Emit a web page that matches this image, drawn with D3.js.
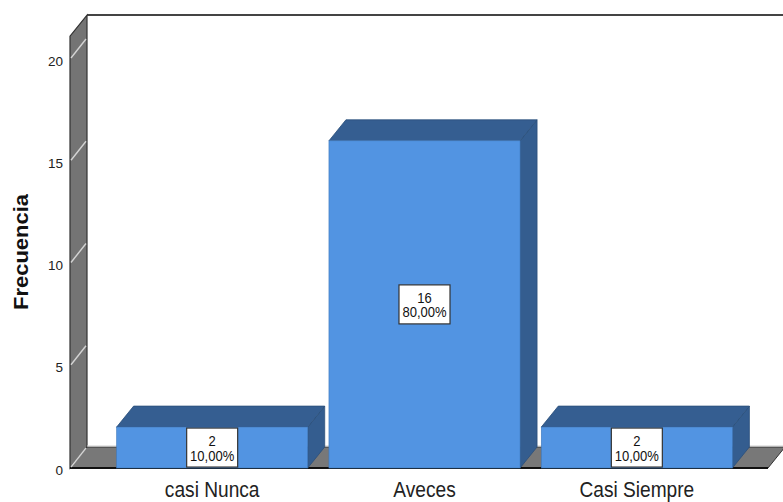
<!DOCTYPE html>
<html><head><meta charset="utf-8">
<script src="https://cdn.jsdelivr.net/npm/d3@7"></script>
<style>html,body{margin:0;padding:0;background:#fff;}svg{display:block;font-family:"Liberation Sans",Arial,sans-serif;}</style>
</head><body>
<svg id="c" width="783" height="502"></svg>
<script>
const categories = ["casi Nunca", "Aveces", "Casi Siempre"];
const counts = [2, 16, 2];
const percents = ["10,00%", "80,00%", "10,00%"];
const yTicks = [0, 5, 10, 15, 20];
const yTitle = "Frecuencia";

const svg = d3.select("#c");
const DX = 17, DY = -21;
const y = d3.scaleLinear().domain([0, 20]).range([468, 59]);
const yTop = 21.12;
const x = d3.scaleBand().domain(categories).range([106, 743]).paddingInner(0.1).paddingOuter(0.05);
const wallX = 70, floorRight = 768;
const line = d3.line();

// back top edge
svg.append("path").attr("d", line([[wallX + DX, y(yTop) + DY], [800, y(yTop) + DY]]))
  .attr("stroke", "#444").attr("stroke-width", 2).attr("fill", "none");

// left wall
svg.append("path").attr("d", line([[wallX, y(0)], [wallX, y(yTop)], [wallX + DX, y(yTop) + DY], [wallX + DX, y(0) + DY]]) + "Z")
  .attr("fill", "#747474").attr("stroke", "#333").attr("stroke-width", 1.2);

// floor
svg.append("path").attr("d", line([[wallX, y(0)], [wallX + DX, y(0) + DY], [floorRight + DX, y(0) + DY], [floorRight, y(0)]]) + "Z")
  .attr("fill", "#787878").attr("stroke", "#333").attr("stroke-width", 1);
// back floor highlight
svg.append("path").attr("d", line([[wallX + DX, y(0) + DY - 1], [floorRight + DX, y(0) + DY - 1]]))
  .attr("stroke", "#d0d0d0").attr("stroke-width", 1.2).attr("fill", "none");
// front floor dark edge
svg.append("path").attr("d", line([[wallX, y(0)], [floorRight, y(0)]]))
  .attr("stroke", "#111").attr("stroke-width", 2).attr("fill", "none");

// wall gridlines
svg.append("g").selectAll("path").data(yTicks).join("path")
  .attr("d", d => line([[wallX + 1, y(d) - 1], [wallX + DX - 1, y(d) + DY + 1]]))
  .attr("stroke", "#d4d4d4").attr("stroke-width", 1.4).attr("fill", "none");

// y tick labels
svg.append("g").selectAll("text").data(yTicks).join("text")
  .attr("x", 63).attr("y", d => y(d) + 2).attr("dy", "0.35em")
  .attr("text-anchor", "end").attr("font-size", 13.5).attr("fill", "#222")
  .text(d => d);

// y title
svg.append("text").attr("transform", "translate(28,252) rotate(-90)")
  .attr("text-anchor", "middle").attr("font-size", 20).attr("font-weight", "bold")
  .attr("fill", "#111").attr("textLength", 116).attr("lengthAdjust", "spacingAndGlyphs")
  .text(yTitle);

// bars
const bars = svg.append("g").selectAll("g").data(categories).join("g");
bars.each(function (c, i) {
  const g = d3.select(this);
  const x0 = x(c), x1 = x(c) + x.bandwidth();
  const yt = y(counts[i]), yb = y(0);
  g.append("path").attr("d", line([[x1, yt], [x1 + DX, yt + DY], [x1 + DX, yb + DY], [x1, yb]]) + "Z")
    .attr("fill", "#345d8f").attr("stroke", "#2b4f7a").attr("stroke-width", 0.8);
  g.append("path").attr("d", line([[x0, yt], [x0 + DX, yt + DY], [x1 + DX, yt + DY], [x1, yt]]) + "Z")
    .attr("fill", "#355e91").attr("stroke", "#2b4f7a").attr("stroke-width", 0.8);
  g.append("rect").attr("x", x0).attr("y", yt).attr("width", x1 - x0).attr("height", yb - yt)
    .attr("fill", "#5294e2").attr("stroke", "#3f78bd").attr("stroke-width", 0.6);
  const cx = (x0 + x1) / 2, cy = (yt + yb) / 2;
  const bh = Math.min(39, yb - yt - 1);
  g.append("rect").attr("x", cx - 25.5).attr("y", cy - bh / 2).attr("width", 51).attr("height", bh)
    .attr("fill", "#fff").attr("stroke", "#333").attr("stroke-width", 1.2);
  g.append("text").attr("transform", `translate(${cx},${cy - 1.5}) scale(0.93,1)`).attr("text-anchor", "middle")
    .attr("font-size", 14).attr("fill", "#111").text(counts[i]);
  g.append("text").attr("transform", `translate(${cx},${cy + 13}) scale(0.93,1)`).attr("text-anchor", "middle")
    .attr("font-size", 14).attr("fill", "#111").text(percents[i]);
});

// category labels
svg.append("g").selectAll("text").data(categories).join("text")
  .attr("transform", d => `translate(${x(d) + x.bandwidth() / 2},497) scale(0.87,1)`)
  .attr("text-anchor", "middle").attr("font-size", 22).attr("fill", "#222")
  .text(d => d);
</script>
</body></html>
